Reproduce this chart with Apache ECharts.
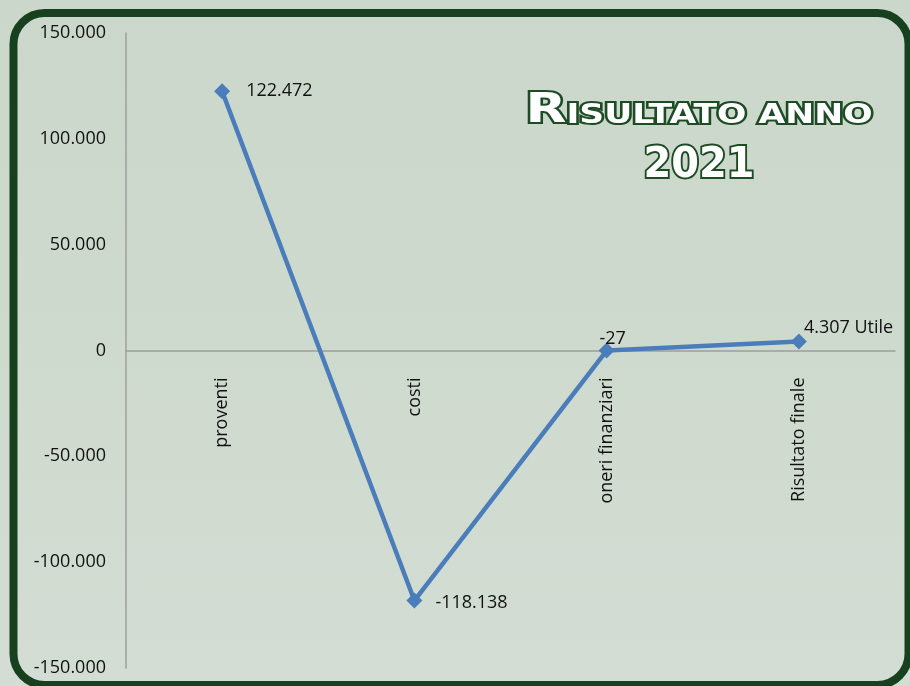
<!DOCTYPE html>
<html>
<head>
<meta charset="utf-8">
<script src="https://cdn.jsdelivr.net/npm/echarts/dist/echarts.min.js"></script>
<style>
  html, body { margin: 0; padding: 0; background: #cfdacf; }
  #chart { width: 910px; height: 686px; }
</style>
</head>
<body>
<div id="chart"></div>
<script>
// dati del grafico
const categories = ['proventi', 'costi', 'oneri finanziari', 'Risultato finale'];
const values = [122472, -118138, -27, 4307];
const labelSuffix = ['', '', '', ' Utile'];
const yTicks = { min: -150000, max: 150000, step: 50000 };

// posizione delle etichette dei punti
const labelPlace = [
    { position: 'right', distance: 16, offset: [0, 0] },
    { position: 'right', distance: 13, offset: [0, 2] },
    { position: 'top', distance: 0, offset: [6, 5] },
    { position: 'right', distance: -3, offset: [0, -14] }
];

function fmt(v) {
    let s = Math.abs(v).toString().replace(/\B(?=(\d{3})+(?!\d))/g, '.');
    return (v < 0 ? '-' : '') + s;
}

const font = "'Open Sans', 'Noto Sans', sans-serif";
const titleColor = '#1d4c24';
const gridTop = 33, gridBottom = 18;
const gridHeight = 686 - gridTop - gridBottom;

let chart = echarts.init(document.getElementById('chart'));

let option = {
    backgroundColor: {
        type: 'linear', x: 0, y: 0, x2: 0, y2: 1,
        colorStops: [
            { offset: 0, color: '#cbd7cb' },
            { offset: 1, color: '#d3ddd3' }
        ]
    },
    animation: false,
    grid: {
        top: gridTop,
        bottom: gridBottom,
        left: 126,
        right: 15,
        containLabel: false,
        outerBoundsMode: 'none'
    },
    xAxis: {
        type: 'category',
        data: categories,
        // asse spostato sullo zero (min e max simmetrici)
        offset: -gridHeight / 2,
        axisTick: { show: false },
        axisLine: { onZero: false, lineStyle: { color: '#9d9f9d', width: 1.5 } },
        axisLabel: {
            rotate: 90,
            margin: 27,
            color: '#111',
            fontSize: 18,
            fontFamily: font
        }
    },
    yAxis: {
        type: 'value',
        min: yTicks.min,
        max: yTicks.max,
        interval: yTicks.step,
        splitLine: { show: false },
        axisTick: { show: false },
        axisLine: { show: true, lineStyle: { color: '#9d9f9d', width: 1.5 } },
        axisLabel: {
            margin: 20,
            color: '#111',
            fontSize: 18,
            fontFamily: font,
            formatter: v => fmt(v)
        }
    },
    graphic: [
        {
            type: 'rect',
            silent: true,
            z: 100,
            shape: { x: 13.5, y: 13, width: 895, height: 672, r: 31 },
            style: { fill: 'none', stroke: '#17401e', lineWidth: 8 }
        },
        {
            type: 'text',
            x: 699,
            y: 112,
            scaleX: 1.33,
            z: 101,
            style: {
                text: '{r|R}{s|ISULTATO ANNO}',
                align: 'center',
                verticalAlign: 'middle',
                rich: {
                    r: {
                        fontSize: 40, fontWeight: 'bold', fontFamily: 'DejaVu Sans',
                        fill: '#fff', stroke: titleColor, lineWidth: 4, verticalAlign: 'bottom'
                    },
                    s: {
                        fontSize: 26, fontWeight: 'bold', fontFamily: 'DejaVu Sans',
                        fill: '#fff', stroke: titleColor, lineWidth: 4, verticalAlign: 'bottom',
                        padding: [0, 0, 3, 0]
                    }
                }
            }
        },
        {
            type: 'text',
            x: 699,
            y: 166,
            scaleX: 0.95,
            z: 101,
            style: {
                text: '2021',
                align: 'center',
                verticalAlign: 'middle',
                fontSize: 42,
                fontWeight: 'bold',
                fontFamily: 'DejaVu Sans',
                fill: '#fff',
                stroke: titleColor,
                lineWidth: 4
            }
        }
    ],
    series: [{
        type: 'line',
        symbol: 'diamond',
        symbolSize: 16,
        lineStyle: { color: '#4a7dba', width: 4.5 },
        itemStyle: { color: '#4a7dba' },
        data: values.map((v, i) => ({
            value: v,
            label: {
                show: true,
                position: labelPlace[i].position,
                distance: labelPlace[i].distance,
                offset: labelPlace[i].offset,
                color: '#111',
                fontSize: 18,
                fontFamily: font,
                formatter: () => fmt(v) + labelSuffix[i]
            }
        }))
    }]
};

chart.setOption(option);
</script>
</body>
</html>
